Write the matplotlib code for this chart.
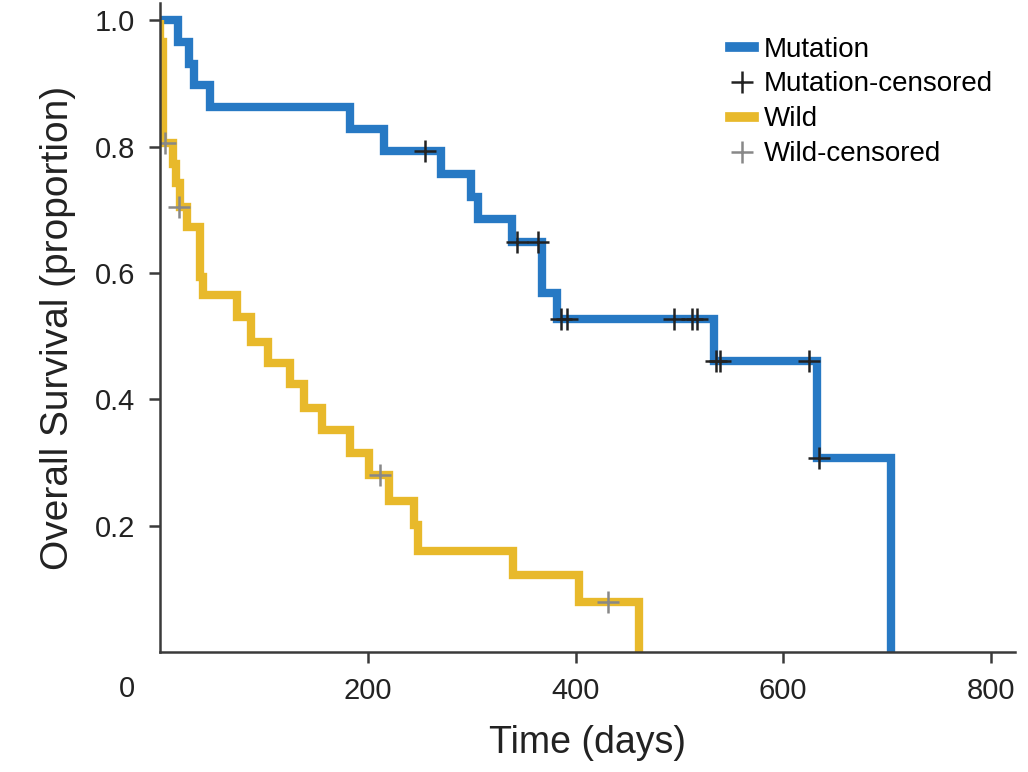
"""
Kaplan-Meier style overall survival chart: Mutation vs Wild.
"""
import numpy as np
import matplotlib
matplotlib.use("Agg")
import matplotlib.pyplot as plt
from matplotlib.lines import Line2D

# Mutation group: event times (days) and survival after each event
mut_times = [0, 17, 28, 32, 48, 183, 215, 270, 299, 306, 339, 368, 382, 533, 633, 704]
mut_surv = [1.0, 0.966, 0.931, 0.897, 0.862, 0.828, 0.793, 0.757, 0.721, 0.685, 0.649,
            0.568, 0.527, 0.461, 0.308, 0.0]
mut_cens_times = [255, 344, 364, 386, 392, 495, 512, 517, 535, 539, 625, 635]
mut_cens_surv = [0.793, 0.649, 0.649, 0.527, 0.527, 0.527, 0.527, 0.527, 0.461, 0.461,
                 0.461, 0.308]

# Wild group
wild_times = [0, 0, 3, 12, 15, 19, 26, 38, 41, 74, 87, 104, 125, 138, 156, 183, 201, 220,
              244, 248, 340, 403, 461]
wild_surv = [1.0, 0.966, 0.806, 0.773, 0.742, 0.705, 0.673, 0.594, 0.565, 0.530, 0.491,
             0.457, 0.425, 0.386, 0.351, 0.315, 0.280, 0.240, 0.201, 0.160, 0.122, 0.079, 0.0]
wild_cens_times = [4, 18, 212, 431]
wild_cens_surv = [0.806, 0.705, 0.280, 0.079]

x_ticks = [200, 400, 600, 800]
y_ticks = [0.2, 0.4, 0.6, 0.8, 1.0]

blue = "#2779c4"
yellow = "#e8b92b"
axis_col = "#3a3a3a"

plt.rcParams['font.family'] = ['Liberation Sans', 'DejaVu Sans']

fig = plt.figure(figsize=(10.28, 7.72), dpi=100)
ax = fig.add_axes([0.156, 0.155, 0.831, 0.841])

ax.step(mut_times, mut_surv, where='post', color=blue, lw=6, solid_joinstyle='miter',
        solid_capstyle='butt')
ax.step(wild_times, wild_surv, where='post', color=yellow, lw=6, solid_joinstyle='miter',
        solid_capstyle='butt')
ax.plot(mut_cens_times, mut_cens_surv, '+', color='#222222', ms=16, mew=1.8, ls='none')
ax.plot(wild_cens_times, wild_cens_surv, '+', color='#888888', ms=16, mew=1.8, ls='none')

ax.set_xlim(0, 823)
ax.set_ylim(0, 1.027)
ax.set_xticks(x_ticks)
ax.set_yticks(y_ticks)
ax.set_yticklabels(["%.1f" % v for v in y_ticks])

for side in ['top', 'right']:
    ax.spines[side].set_visible(False)
for side in ['left', 'bottom']:
    ax.spines[side].set_color(axis_col)
    ax.spines[side].set_linewidth(1.8)
ax.tick_params(direction='out', length=8, width=1.8, color=axis_col, labelsize=21,
               labelcolor='#222222', pad=10)

# the "0" label sits to the left of the y axis in the original
ax.text(-32, -0.035, "0", transform=ax.get_xaxis_transform(), ha='center', va='top',
        fontsize=21, color='#222222')

ax.set_xlabel("Time (days)", fontsize=27, color='#222222', labelpad=14)
ax.set_ylabel("Overall Survival (proportion)", fontsize=28, color='#222222', labelpad=14)

handles = [
    Line2D([], [], color=blue, lw=7),
    Line2D([], [], color='#222222', marker='+', ls='none', ms=16, mew=1.8),
    Line2D([], [], color=yellow, lw=7),
    Line2D([], [], color='#888888', marker='+', ls='none', ms=16, mew=1.8),
]
labels = ["Mutation", "Mutation-censored", "Wild", "Wild-censored"]
leg = fig.legend(handles, labels, loc='upper right', bbox_to_anchor=(0.99, 0.985), frameon=False,
                 fontsize=20, handlelength=0.85, handletextpad=0.35, labelspacing=0.32)

fig.savefig("out.png", dpi=100)
